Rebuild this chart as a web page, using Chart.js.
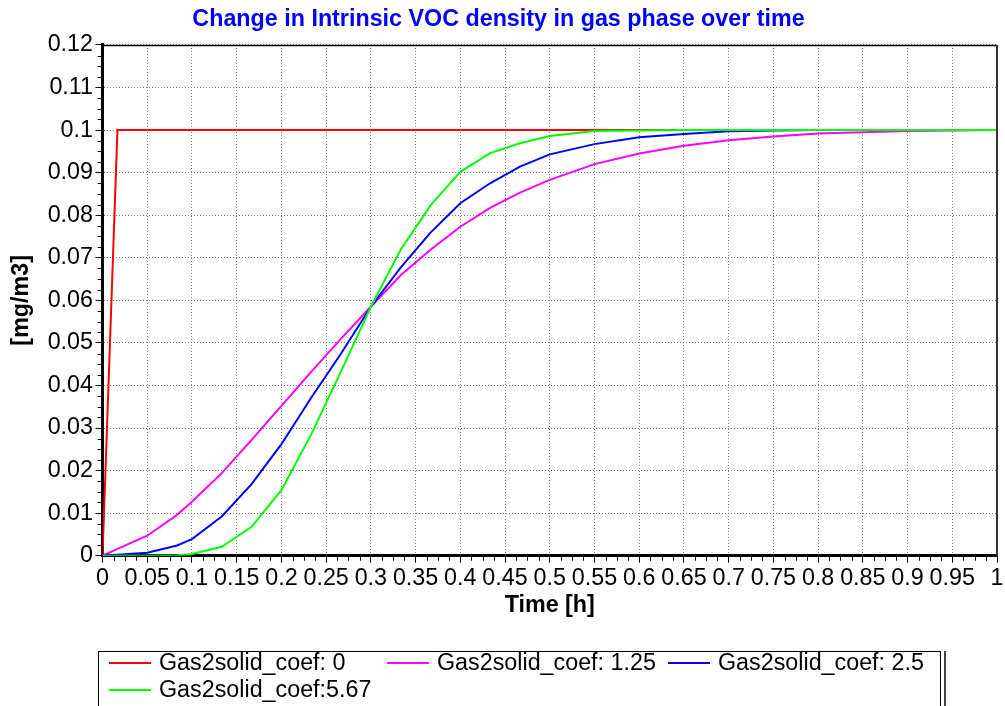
<!DOCTYPE html>
<html>
<head>
<meta charset="utf-8">
<script src="https://cdn.jsdelivr.net/npm/chart.js@4.4.1/dist/chart.umd.min.js"></script>
<style>
  html, body { margin: 0; padding: 0; background: #fff; overflow: hidden; }
  #wrap { position: relative; width: 1005px; height: 706px; }
  #chart { position: absolute; left: 0; top: 0; }
  #legend {
    position: absolute; left: 98px; top: 651px; width: 843px; height: 80px;
    border: 1px solid #000; box-sizing: border-box;
    box-shadow: 3px 0 0 0 #fff, 5px 0 0 0 #444;
    font: 23.3px "Liberation Sans", Arial, sans-serif; color: #000;
    display: grid; grid-template-columns: 278px 281px auto;
    grid-auto-rows: 21px; row-gap: 6px; padding: 0 0 0 10px;
  }
  .item { display: flex; align-items: center; white-space: nowrap; }
  .swatch { width: 42px; height: 2px; margin-right: 8px; flex: none; }
</style>
</head>
<body>
<div id="wrap">
  <canvas id="chart" width="1005" height="706"></canvas>
  <div id="legend"></div>
</div>
<script>
// Time axis (hours) shared by every series
const times = [0, 0.0167, 0.05, 0.0833, 0.1, 0.1333, 0.1667, 0.2, 0.2333, 0.2667,
  0.3, 0.3333, 0.3667, 0.4, 0.4333, 0.4667, 0.5, 0.55, 0.6, 0.65,
  0.7, 0.75, 0.8, 0.85, 0.9, 0.95, 1];

// VOC density in gas phase [mg/m3] per gas-to-solid coefficient
const coef0 = [0, 0.1, 0.1, 0.1, 0.1, 0.1, 0.1, 0.1, 0.1, 0.1,
  0.1, 0.1, 0.1, 0.1, 0.1, 0.1, 0.1, 0.1, 0.1, 0.1,
  0.1, 0.1, 0.1, 0.1, 0.1, 0.1, 0.1];
const coef125 = [0, 0.0016, 0.0047, 0.0096, 0.0127, 0.0194, 0.0272, 0.0352, 0.0432, 0.051,
  0.0585, 0.0659, 0.0719, 0.0773, 0.0817, 0.0853, 0.0883, 0.092, 0.0945, 0.0963,
  0.0976, 0.0985, 0.0992, 0.0995, 0.0998, 0.0999, 0.1];
const coef25 = [0, 0.0002, 0.0007, 0.0024, 0.0039, 0.0092, 0.0168, 0.0262, 0.0371, 0.0475,
  0.0585, 0.0677, 0.0759, 0.0828, 0.0875, 0.0914, 0.0943, 0.0967, 0.0983, 0.0991,
  0.0997, 0.0999, 0.1, 0.1, 0.1, 0.1, 0.1];
const coef567 = [0, 0, 0, 0.0001, 0.0004, 0.0021, 0.0068, 0.0154, 0.0285, 0.0433,
  0.0585, 0.0719, 0.0823, 0.0902, 0.0946, 0.0969, 0.0986, 0.0998, 0.0999, 0.1,
  0.1, 0.1, 0.1, 0.1, 0.1, 0.1, 0.1];

const seriesNames = ['Gas2solid_coef: 0', 'Gas2solid_coef: 1.25', 'Gas2solid_coef: 2.5', 'Gas2solid_coef:5.67'];
const seriesValues = [coef0, coef125, coef25, coef567];
const seriesColors = ['#ff0000', '#ff00ff', '#0000ff', '#00ff00'];

const xTickLabels = ['0', '0.05', '0.1', '0.15', '0.2', '0.25', '0.3', '0.35', '0.4', '0.45', '0.5',
  '0.55', '0.6', '0.65', '0.7', '0.75', '0.8', '0.85', '0.9', '0.95', '1'];
const yTickLabels = ['0', '0.01', '0.02', '0.03', '0.04', '0.05', '0.06', '0.07', '0.08', '0.09', '0.1', '0.11', '0.12'];

const FONT = '"Liberation Sans", Arial, sans-serif';
const FONT_SIZE = 23.3;
Chart.defaults.font.family = FONT;
Chart.defaults.color = '#000';

const datasets = seriesValues.map((vals, k) => ({
  label: seriesNames[k],
  data: times.map((t, i) => ({ x: t, y: vals[i] })),
  borderColor: seriesColors[k],
  backgroundColor: seriesColors[k],
  borderWidth: 2,
  pointRadius: 0,
  tension: 0,
  fill: false,
  order: seriesValues.length - k
}));

// Plot frame (top/right edges) and minor tick marks
const framePlugin = {
  id: 'frame',
  afterDraw(chart) {
    const { ctx, chartArea: a, scales: { x, y } } = chart;
    ctx.save();
    ctx.strokeStyle = '#000';
    ctx.lineWidth = 1.5;
    ctx.beginPath();
    ctx.moveTo(a.left, a.top + 0.5);
    ctx.lineTo(a.right, a.top + 0.5);
    ctx.stroke();
    ctx.strokeStyle = '#333';
    ctx.lineWidth = 2;
    ctx.beginPath();
    ctx.moveTo(a.right, a.top);
    ctx.lineTo(a.right, a.bottom);
    ctx.stroke();

    ctx.strokeStyle = '#000';
    ctx.lineWidth = 1;
    ctx.beginPath();
    for (let i = 1; i < 48; i++) {
      if (i % 4 === 0) continue;
      const py = Math.round(y.getPixelForValue(i * 0.0025)) + 0.5;
      ctx.moveTo(a.left - 5, py);
      ctx.lineTo(a.left, py);
    }
    for (let i = 1; i < 80; i++) {
      if (i % 4 === 0) continue;
      const px = Math.round(x.getPixelForValue(i * 0.0125)) + 0.5;
      ctx.moveTo(px, a.bottom);
      ctx.lineTo(px, a.bottom + 5);
    }
    ctx.stroke();
    ctx.restore();
  }
};

const gridCommon = {
  color: 'rgba(110,110,110,0.9)',
  lineWidth: 1,
  tickColor: '#000',
  tickLength: 7,
  tickWidth: 1
};

const chart = new Chart(document.getElementById('chart'), {
  type: 'line',
  data: { datasets },
  options: {
    responsive: false,
    animation: false,
    devicePixelRatio: 1,
    layout: { padding: { left: 0, right: 8, top: 0, bottom: 0 } },
    plugins: {
      legend: { display: false },
      tooltip: { enabled: false },
      title: {
        display: true,
        text: 'Change in Intrinsic VOC density in gas phase over time',
        color: '#0000ff',
        font: { size: FONT_SIZE, weight: 'bold', family: FONT },
        padding: { top: 6, bottom: 11 }
      }
    },
    scales: {
      x: {
        type: 'linear',
        min: 0,
        max: 1,
        afterFit(s) { s.height = 150.3; },
        ticks: {
          stepSize: 0.05,
          autoSkip: false,
          maxRotation: 0,
          minRotation: 0,
          padding: 1.5,
          color: '#000',
          font: { size: FONT_SIZE, family: FONT },
          callback: (v, i) => xTickLabels[i]
        },
        grid: gridCommon,
        border: { display: true, color: '#000', width: 3, dash: [1, 2] },
        title: {
          display: true,
          text: 'Time [h]',
          color: '#000',
          font: { size: FONT_SIZE, weight: 'bold', family: FONT },
          padding: { top: 0, bottom: 86 }
        }
      },
      y: {
        type: 'linear',
        min: 0,
        max: 0.12,
        afterFit(s) { s.width = 102.5; },
        ticks: {
          stepSize: 0.01,
          autoSkip: false,
          padding: 2.5,
          color: '#000',
          font: { size: FONT_SIZE, family: FONT },
          callback: (v, i) => yTickLabels[i]
        },
        grid: gridCommon,
        border: { display: true, color: '#000', width: 3, dash: [1, 2] },
        title: {
          display: true,
          text: '[mg/m3]',
          color: '#000',
          font: { size: FONT_SIZE, weight: 'bold', family: FONT },
          padding: { top: 8, bottom: 0 }
        }
      }
    }
  },
  plugins: [framePlugin]
});

// Legend built from the chart's datasets
const legendEl = document.getElementById('legend');
chart.data.datasets.forEach(ds => {
  const item = document.createElement('div');
  item.className = 'item';
  const sw = document.createElement('span');
  sw.className = 'swatch';
  sw.style.background = ds.borderColor;
  const txt = document.createElement('span');
  txt.textContent = ds.label;
  item.appendChild(sw);
  item.appendChild(txt);
  legendEl.appendChild(item);
});
</script>
</body>
</html>
